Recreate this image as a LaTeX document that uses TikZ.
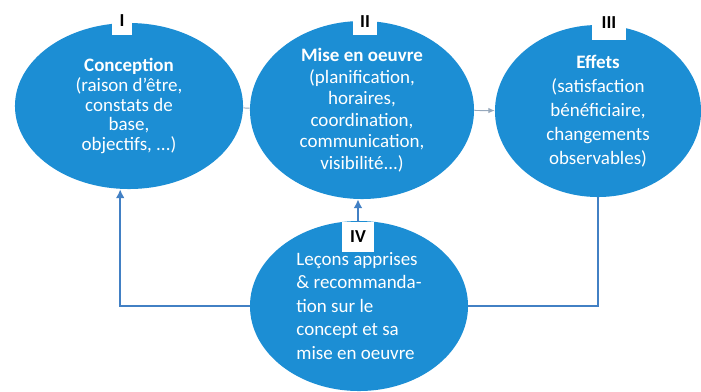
\documentclass[tikz,border=0pt]{standalone}
\usepackage{fontspec}
\setmainfont{Carlito}
\usetikzlibrary{shapes.geometric, arrows.meta, positioning}
\definecolor{phaseblue}{RGB}{28,142,212}
\definecolor{loopblue}{RGB}{66,128,196}
\definecolor{linkgray}{RGB}{150,168,188}

\begin{document}
\begin{tikzpicture}[
        x=0.025cm, y=-0.025cm,
        phase/.style={ellipse, fill=phaseblue, text=white, inner sep=0pt,
                      align=center},
        numbox/.style={fill=white, inner sep=0pt,
                       font=\fontsize{13}{13}\selectfont\bfseries},
        link/.style={linkgray, line width=0.7pt},
        fb/.style={loopblue, line width=1.6pt}
      ]
        \useasboundingbox (0,0) rectangle (701,391);

        % the four phases
        \node[phase, minimum width=5.7cm, minimum height=4.15cm,
              font=\fontsize{13.5}{13.9}\selectfont] (concept) at (129,106)
              {\textbf{Conception}\\(raison d'être,\\constats de\\base,\\objectifs, ...)};
        \node[phase, minimum width=5.6cm, minimum height=4.45cm,
              font=\fontsize{13.5}{15.3}\selectfont] (mise) at (362,110)
              {\textbf{Mise en oeuvre}\\(planification,\\horaires,\\coordination,\\communication,\\visibilité...)};
        \node[phase, minimum width=5.15cm, minimum height=4.3cm,
              font=\fontsize{13.5}{17.1}\selectfont] (effets) at (598,111)
              {\textbf{Effets}\\(satisfaction\\bénéficiaire,\\changements\\observables)};
        \node[phase, minimum width=5.45cm, minimum height=4.25cm, align=left,
              font=\fontsize{13.5}{16.7}\selectfont] (lecons) at (359,306)
              {Leçons apprises\\\& recommanda-\\tion sur le\\concept et sa\\mise en oeuvre};

        \draw[link] (concept) -- (mise);
        \draw[link, -{Latex[length=1.6mm, width=1.4mm]}] (mise) -- (effets);

        % numbers on top
        \node[numbox, minimum width=0.48cm, minimum height=0.7cm] (n1) at (122,21) {I};
        \node[numbox, minimum width=0.62cm, minimum height=0.65cm] (n2) at (365,22) {II};
        \node[numbox, minimum width=0.85cm, minimum height=0.85cm] (n3) at (609,23) {III};
        \node[numbox, minimum width=0.82cm, minimum height=0.75cm] (n4) at (358,237) {IV};

        % feedback
        \draw[fb, -{Latex[length=2.2mm, width=2.2mm]}] (lecons.west) -| ([xshift=-0.22cm]concept.south);
        \draw[fb, -{Latex[length=2.2mm, width=2.2mm]}] (n4.north) -- (n4.north |- mise.south);
        \draw[fb] (lecons.east) -| (effets.south);
      \end{tikzpicture}
\end{document}
